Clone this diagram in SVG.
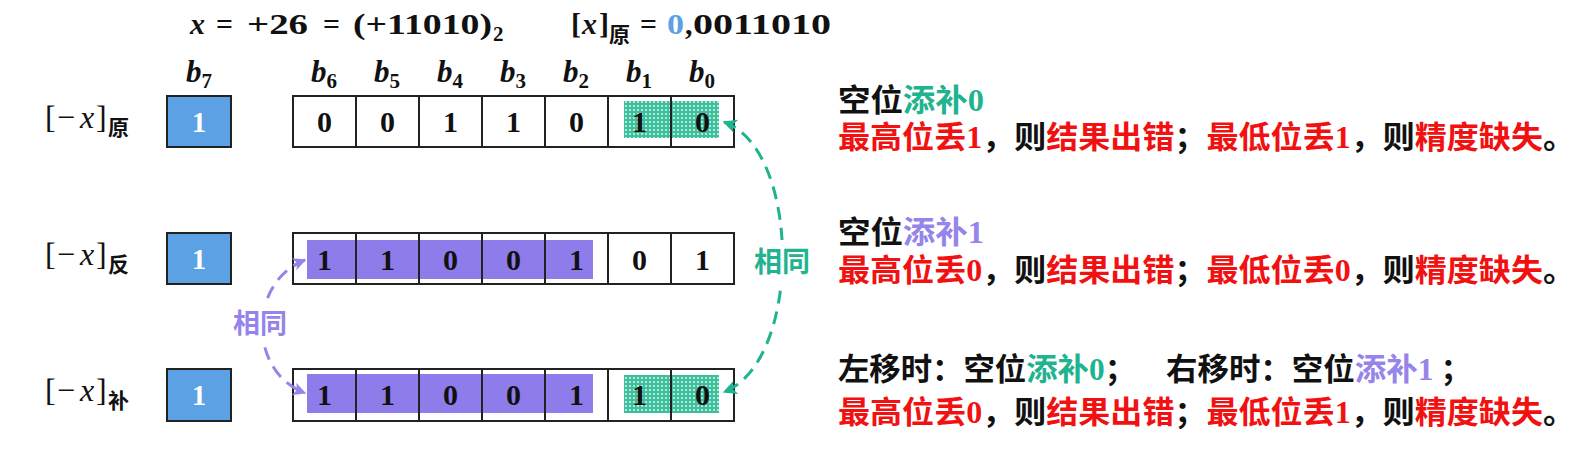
<svg xmlns="http://www.w3.org/2000/svg" width="1588" height="468" viewBox="0 0 1588 468">
<style>
.bg{fill:#ffffff}
.math{font-family:"Liberation Serif","DejaVu Serif",serif;font-weight:bold;fill:#111;font-size:30px}
.lab{font-family:"Liberation Serif","DejaVu Serif",serif;fill:#111;font-size:32px}
.it{font-style:italic}
.cjk{font-family:"Noto Sans CJK SC","Noto Sans",sans-serif;font-weight:bold}
.sub{font-family:"Noto Sans CJK SC","Noto Sans",sans-serif;font-weight:bold;font-size:21px;fill:#111}
.bit{font-family:"Liberation Serif","DejaVu Serif",serif;font-weight:bold;font-size:30px;fill:#111;text-anchor:middle}
.sign{fill:#5BA1E3;stroke:#222;stroke-width:2}
.sign-t{font-family:"Liberation Serif","DejaVu Serif",serif;font-weight:bold;font-size:29px;fill:#fff;text-anchor:middle}
.cell{fill:#fff;stroke:#222;stroke-width:2}
.purp{fill:#8D7CEA}
.hatch{fill:url(#dots)}
.blab{font-family:"Liberation Serif","DejaVu Serif",serif;font-weight:bold;font-style:italic;font-size:31px;fill:#111;text-anchor:middle}
.bs{font-style:normal;font-size:21px}
.txt{font-family:"Noto Sans CJK SC","Noto Sans",sans-serif;font-weight:bold;font-size:31px;fill:#111}
.r{fill:#F21111}
.g{fill:#1FB38F}
.p{fill:#9585EA}
.dg{font-family:"Liberation Serif","DejaVu Serif",serif;font-weight:bold}
.gline{fill:none;stroke:#1FB38F;stroke-width:3;stroke-dasharray:13 8}
.pline{fill:none;stroke:#9585EA;stroke-width:3;stroke-dasharray:13 8}
</style>
<defs>
<pattern id="dots" width="4" height="4" patternUnits="userSpaceOnUse">
<rect width="4" height="4" fill="#3CBF9C"/>
<circle cx="2" cy="2" r="1.1" fill="#d4f2e7"/>
</pattern>
<marker id="ag" viewBox="0 0 10 10" refX="9" refY="5" markerWidth="17" markerHeight="14" markerUnits="userSpaceOnUse" orient="auto-start-reverse">
<path d="M0,0 L10,5 L0,10 L2.5,5 z" fill="#1FB38F"/>
</marker>
<marker id="ap" viewBox="0 0 10 10" refX="9" refY="5" markerWidth="15" markerHeight="13" markerUnits="userSpaceOnUse" orient="auto-start-reverse">
<path d="M0,0 L10,5 L0,10 L2.5,5 z" fill="#9585EA"/>
</marker>
</defs>
<rect class="bg" width="1588" height="468"/>

<g id="formula">
<text class="math" y="34"><tspan class="it" x="190">x</tspan><tspan x="216" textLength="17" lengthAdjust="spacingAndGlyphs">=</tspan><tspan x="247" textLength="61" lengthAdjust="spacingAndGlyphs">+26</tspan><tspan x="323" textLength="17" lengthAdjust="spacingAndGlyphs">=</tspan><tspan x="353" textLength="139" lengthAdjust="spacingAndGlyphs">(+11010)</tspan><tspan x="493" dy="7" font-size="21">2</tspan></text>
<text class="math" y="34"><tspan x="571">[</tspan><tspan class="it" x="582">x</tspan><tspan x="599">]</tspan><tspan class="sub" x="609" dy="8">原</tspan><tspan x="640" dy="-8" textLength="17" lengthAdjust="spacingAndGlyphs">=</tspan><tspan x="667" fill="#5BA1E3" textLength="17" lengthAdjust="spacingAndGlyphs">0</tspan><tspan x="685">,</tspan><tspan x="693" textLength="138" lengthAdjust="spacingAndGlyphs">0011010</tspan></text>
</g>

<g id="bit-labels">
<text class="blab" x="199" y="82">b<tspan class="bs" dy="6">7</tspan></text>
<text class="blab" x="324" y="82">b<tspan class="bs" dy="6">6</tspan></text>
<text class="blab" x="387" y="82">b<tspan class="bs" dy="6">5</tspan></text>
<text class="blab" x="450" y="82">b<tspan class="bs" dy="6">4</tspan></text>
<text class="blab" x="513" y="82">b<tspan class="bs" dy="6">3</tspan></text>
<text class="blab" x="576" y="82">b<tspan class="bs" dy="6">2</tspan></text>
<text class="blab" x="639" y="82">b<tspan class="bs" dy="6">1</tspan></text>
<text class="blab" x="702" y="82">b<tspan class="bs" dy="6">0</tspan></text>
</g>

<g id="row-yuan">
<text class="lab" y="128"><tspan x="45">[</tspan><tspan x="57">−</tspan><tspan class="it" x="80">x</tspan><tspan x="96">]</tspan><tspan class="sub" x="108" dy="7">原</tspan></text>
<rect class="sign" x="167" y="96" width="64" height="51"/>
<text class="sign-t" x="199" y="132">1</text>
<rect class="cell" x="293" y="96" width="63" height="51"/>
<rect class="cell" x="356" y="96" width="63" height="51"/>
<rect class="cell" x="419" y="96" width="63" height="51"/>
<rect class="cell" x="482" y="96" width="63" height="51"/>
<rect class="cell" x="545" y="96" width="63" height="51"/>
<rect class="cell" x="608" y="96" width="63" height="51"/>
<rect class="cell" x="671" y="96" width="63" height="51"/>
<rect class="hatch" x="624" y="101" width="95" height="37"/>
<line x1="671" y1="96" x2="671" y2="147" stroke="#222" stroke-width="2"/>
<text class="bit" x="324.5" y="132">0</text>
<text class="bit" x="387.5" y="132">0</text>
<text class="bit" x="450.5" y="132">1</text>
<text class="bit" x="513.5" y="132">1</text>
<text class="bit" x="576.5" y="132">0</text>
<text class="bit" x="639.5" y="132">1</text>
<text class="bit" x="702.5" y="132">0</text>
</g>

<g id="row-fan">
<text class="lab" y="265"><tspan x="45">[</tspan><tspan x="57">−</tspan><tspan class="it" x="80">x</tspan><tspan x="96">]</tspan><tspan class="sub" x="108" dy="7">反</tspan></text>
<rect class="sign" x="167" y="233" width="64" height="51"/>
<text class="sign-t" x="199" y="269">1</text>
<rect class="cell" x="293" y="233" width="63" height="51"/>
<rect class="cell" x="356" y="233" width="63" height="51"/>
<rect class="cell" x="419" y="233" width="63" height="51"/>
<rect class="cell" x="482" y="233" width="63" height="51"/>
<rect class="cell" x="545" y="233" width="63" height="51"/>
<rect class="cell" x="608" y="233" width="63" height="51"/>
<rect class="cell" x="671" y="233" width="63" height="51"/>
<rect class="purp" x="307" y="240" width="286" height="39"/>
<g stroke="#222" stroke-width="2"><line x1="356" y1="233" x2="356" y2="284"/><line x1="419" y1="233" x2="419" y2="284"/><line x1="482" y1="233" x2="482" y2="284"/><line x1="545" y1="233" x2="545" y2="284"/></g>
<text class="bit" x="324.5" y="270">1</text>
<text class="bit" x="387.5" y="270">1</text>
<text class="bit" x="450.5" y="270">0</text>
<text class="bit" x="513.5" y="270">0</text>
<text class="bit" x="576.5" y="270">1</text>
<text class="bit" x="639.5" y="270">0</text>
<text class="bit" x="702.5" y="270">1</text>
</g>

<g id="row-bu">
<text class="lab" y="401"><tspan x="45">[</tspan><tspan x="57">−</tspan><tspan class="it" x="80">x</tspan><tspan x="96">]</tspan><tspan class="sub" x="108" dy="7">补</tspan></text>
<rect class="sign" x="167" y="369" width="64" height="52"/>
<text class="sign-t" x="199" y="405">1</text>
<rect class="cell" x="293" y="369" width="63" height="52"/>
<rect class="cell" x="356" y="369" width="63" height="52"/>
<rect class="cell" x="419" y="369" width="63" height="52"/>
<rect class="cell" x="482" y="369" width="63" height="52"/>
<rect class="cell" x="545" y="369" width="63" height="52"/>
<rect class="cell" x="608" y="369" width="63" height="52"/>
<rect class="cell" x="671" y="369" width="63" height="52"/>
<rect class="purp" x="307" y="374" width="286" height="39"/>
<rect class="hatch" x="624" y="375" width="95" height="38"/>
<g stroke="#222" stroke-width="2"><line x1="356" y1="369" x2="356" y2="421"/><line x1="419" y1="369" x2="419" y2="421"/><line x1="482" y1="369" x2="482" y2="421"/><line x1="545" y1="369" x2="545" y2="421"/><line x1="671" y1="369" x2="671" y2="421"/></g>
<text class="bit" x="324.5" y="405">1</text>
<text class="bit" x="387.5" y="405">1</text>
<text class="bit" x="450.5" y="405">0</text>
<text class="bit" x="513.5" y="405">0</text>
<text class="bit" x="576.5" y="405">1</text>
<text class="bit" x="639.5" y="405">1</text>
<text class="bit" x="702.5" y="405">0</text>
</g>

<g id="connectors">
<path class="gline" d="M724,122 C802,150 802,362 724,392" marker-start="url(#ag)" marker-end="url(#ag)"/>
<path class="pline" d="M305,260 C248,282 248,372 305,393" marker-start="url(#ap)" marker-end="url(#ap)"/>
<rect x="752" y="240" width="60" height="45" fill="#fff"/>
<rect x="230" y="302" width="60" height="43" fill="#fff"/>
<text class="cjk g" x="782" y="272" font-size="28" text-anchor="middle">相同</text>
<text class="cjk p" x="260" y="333" font-size="27" text-anchor="middle">相同</text>
</g>

<g id="notes">
<text class="txt" x="838" y="111" textLength="146" lengthAdjust="spacingAndGlyphs">空位<tspan class="g">添补<tspan class="dg">0</tspan></tspan></text>
<text class="txt" x="838" y="148" textLength="737" lengthAdjust="spacingAndGlyphs"><tspan class="r">最高位丢<tspan class="dg">1</tspan></tspan>，则<tspan class="r">结果出错</tspan>；<tspan class="r">最低位丢<tspan class="dg">1</tspan></tspan>，则<tspan class="r">精度缺失</tspan>。</text>
<text class="txt" x="838" y="243" textLength="146" lengthAdjust="spacingAndGlyphs">空位<tspan class="p">添补<tspan class="dg">1</tspan></tspan></text>
<text class="txt" x="838" y="281" textLength="737" lengthAdjust="spacingAndGlyphs"><tspan class="r">最高位丢<tspan class="dg">0</tspan></tspan>，则<tspan class="r">结果出错</tspan>；<tspan class="r">最低位丢<tspan class="dg">0</tspan></tspan>，则<tspan class="r">精度缺失</tspan>。</text>
<text class="txt" x="838" y="380" textLength="298" lengthAdjust="spacingAndGlyphs">左移时：空位<tspan class="g">添补<tspan class="dg">0</tspan></tspan>；</text>
<text class="txt" x="1166" y="380" textLength="306" lengthAdjust="spacingAndGlyphs">右移时：空位<tspan class="p">添补<tspan class="dg">1</tspan></tspan> ；</text>
<text class="txt" x="838" y="423" textLength="737" lengthAdjust="spacingAndGlyphs"><tspan class="r">最高位丢<tspan class="dg">0</tspan></tspan>，则<tspan class="r">结果出错</tspan>；<tspan class="r">最低位丢<tspan class="dg">1</tspan></tspan>，则<tspan class="r">精度缺失</tspan>。</text>
</g>
</svg>
